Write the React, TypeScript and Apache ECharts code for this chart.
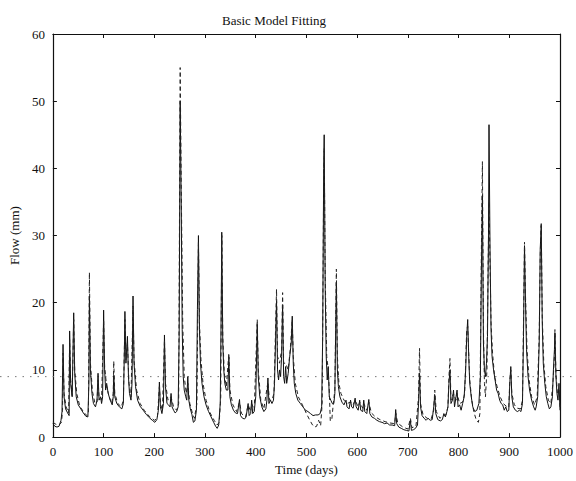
import React, { useEffect, useRef } from "react";
import * as echarts from "echarts";

// Observed flow [day, mm] (solid line)
const OBSERVED: [number, number][] = [
  [0, 2.0], [4, 1.6], [8, 1.5], [12, 1.6], [16, 2.5], [18, 3.8], [20, 13.8], [22, 6], [25, 4.2], [29, 3.6],
  [32, 3.2], [33, 15.8], [35, 8], [38, 6], [41, 18.5], [43, 9.5], [46, 6], [50, 4.8], [55, 4.2], [60, 3.6],
  [65, 3.1], [69, 3.0], [71, 8], [72, 21], [74, 10], [77, 6.5], [80, 5], [84, 4.5], [87, 5.5], [89, 9.5],
  [91, 5.5], [94, 6], [96, 5], [98, 6], [100, 18.9], [102, 10], [104, 7], [106, 8], [109, 6.5], [113, 5.5],
  [117, 4.8], [119, 6], [120, 9.2], [122, 6], [126, 5], [131, 4.5], [136, 4.2], [139, 5], [141, 13], [142, 18.7],
  [144, 11], [147, 15], [149, 9], [151, 6.5], [154, 5.5], [156, 8], [158, 21], [160, 11], [163, 7.5], [167, 5.5],
  [172, 4.6], [178, 4], [184, 3.4], [190, 2.9], [196, 2.5], [201, 2.2], [205, 2.6], [208, 4], [210, 8.2], [212, 4.5],
  [215, 3.5], [218, 5], [220, 15.2], [222, 7.5], [225, 5], [228, 4.8], [231, 4.5], [233, 6.5], [235, 4.5], [238, 4],
  [241, 3.6], [244, 3.8], [247, 4.5], [249, 15], [251, 50], [253, 35], [255, 16], [257, 9], [259, 7], [262, 6],
  [264, 5.5], [266, 9], [268, 5.5], [271, 4.2], [274, 3.4], [277, 2.2], [280, 2.4], [283, 4], [285, 19], [287, 30],
  [289, 16], [291, 11], [294, 8], [298, 6], [302, 4.8], [307, 3.8], [312, 3], [317, 2.2], [321, 1.6], [324, 1.3],
  [327, 1.8], [330, 5], [332, 20], [333, 30.5], [335, 14], [337, 10], [339, 8], [342, 7], [345, 7], [347, 11.9],
  [349, 6], [352, 4.8], [356, 4], [360, 3.6], [364, 3.5], [368, 5.6], [370, 3.2], [374, 2.8], [378, 2.7], [381, 3],
  [385, 5], [387, 3.2], [390, 3.5], [392, 5.5], [394, 3.5], [397, 3.8], [400, 6], [403, 16.8], [405, 9], [408, 6],
  [412, 4.5], [416, 3.8], [420, 4.2], [422, 5.5], [424, 8.8], [426, 5], [429, 5.5], [432, 5], [435, 5.5], [437, 8],
  [439, 14], [441, 20.3], [443, 10], [445, 8.5], [447, 10], [449, 9], [451, 12], [453, 19.7], [455, 9], [457, 8],
  [459, 10.5], [461, 8], [464, 9.5], [467, 12], [470, 14], [472, 18], [474, 11], [476, 8], [479, 6.5], [483, 5.5],
  [488, 5], [493, 4.5], [498, 4], [503, 3.8], [508, 3.5], [513, 3.2], [518, 3.3], [523, 3.3], [527, 3.5], [530, 4.5],
  [532, 15], [534, 40], [535, 45], [537, 22], [539, 12], [541, 8.5], [543, 10.5], [545, 6], [548, 5.5], [551, 5],
  [554, 5], [556, 6.5], [558, 18], [559, 23], [561, 10], [563, 7.5], [566, 6], [570, 5.2], [574, 4.8], [578, 5.5],
  [580, 4.5], [584, 4.2], [587, 5.5], [589, 4.5], [592, 4.3], [596, 5.8], [598, 4.5], [602, 4], [605, 5.5], [607, 4],
  [611, 3.8], [613, 5.5], [615, 3.8], [619, 3.5], [623, 5.6], [625, 3.5], [629, 3], [634, 2.8], [639, 2.5], [644, 2.3],
  [649, 2.2], [654, 2], [659, 2.1], [664, 1.8], [669, 1.8], [674, 1.7], [676, 4.1], [678, 2], [682, 1.5], [687, 1.3],
  [692, 1.1], [697, 1], [702, 0.9], [705, 2.5], [707, 1], [711, 1.1], [715, 1.3], [719, 1.8], [721, 5], [723, 9.5],
  [725, 4.5], [728, 3.2], [732, 2.8], [736, 2.5], [740, 2.8], [744, 2.5], [748, 2.6], [751, 4.5], [753, 6.3], [755, 3.5],
  [759, 2.6], [764, 2.4], [768, 2.6], [771, 3.5], [774, 3], [777, 3.8], [779, 4.5], [781, 8], [783, 10], [785, 5],
  [788, 5.5], [790, 7], [792, 4.5], [795, 6], [797, 7], [799, 4.5], [802, 4.8], [805, 4], [808, 5], [811, 6],
  [814, 10], [816, 15], [818, 17.5], [820, 12], [822, 8], [825, 6], [828, 4.5], [832, 3.8], [836, 4], [840, 5],
  [843, 9], [845, 25], [847, 36], [849, 14], [851, 10], [853, 9], [855, 11], [857, 15], [859, 30], [860, 46.5],
  [862, 28], [864, 16], [866, 12], [869, 10], [872, 8.5], [875, 7], [878, 6.5], [881, 5.5], [884, 5], [887, 4.8],
  [890, 4], [893, 4.5], [896, 3.8], [899, 4], [901, 8], [903, 10.5], [905, 6], [908, 4.5], [912, 4], [916, 3.8],
  [920, 4], [923, 3.8], [926, 5], [928, 15], [930, 28.5], [932, 20], [934, 13], [937, 9], [940, 7], [944, 5.5],
  [948, 4.5], [951, 4], [953, 4.5], [956, 6], [959, 14], [961, 28], [963, 31.5], [965, 17], [967, 11], [970, 8],
  [973, 6], [976, 5], [979, 4.2], [982, 4.5], [985, 6], [987, 10], [989, 13], [990, 15.5], [992, 9], [994, 6.5],
  [996, 5.5], [998, 8], [1000, 4],
];

// Modelled flow [day, mm] (dashed line)
const MODELLED: [number, number][] = [
  [0, 2.2], [6, 1.9], [12, 1.8], [17, 2.2], [19, 4], [20, 12.5], [22, 6.5], [26, 4.5], [31, 3.6], [33, 14.5],
  [35, 8.5], [38, 6.2], [41, 17.5], [43, 10], [47, 6.5], [53, 4.6], [60, 3.8], [67, 3.2], [70, 3.5], [72, 24.5],
  [74, 11], [78, 6.8], [83, 5], [87, 5.2], [89, 8.5], [91, 6], [96, 5.5], [100, 17.5], [102, 10.5], [106, 7.5],
  [111, 6], [116, 5], [119, 6.5], [120, 11.3], [122, 6.5], [128, 5], [135, 4.5], [139, 5.5], [142, 17.5], [144, 11.5],
  [147, 14], [150, 8], [154, 6], [158, 19.5], [160, 11.5], [165, 7], [172, 5], [180, 4], [190, 3.1], [200, 2.5],
  [206, 2.8], [210, 7.5], [212, 5], [216, 4], [220, 14.5], [222, 8], [227, 5.5], [233, 6], [238, 4.5], [244, 4],
  [248, 5], [251, 55], [253, 38], [256, 17], [259, 9], [263, 6.5], [266, 8], [270, 5], [275, 3.6], [279, 2.8],
  [284, 5], [287, 29], [289, 17], [292, 11.5], [296, 8], [302, 5.5], [310, 3.6], [318, 2.5], [324, 1.8], [328, 2.2],
  [331, 6], [333, 30], [335, 15], [338, 9.5], [342, 7.5], [347, 12.5], [349, 7], [355, 4.8], [362, 3.8], [368, 5.2],
  [372, 3.5], [380, 3], [385, 4.8], [390, 3.8], [392, 5], [397, 4], [403, 17.5], [405, 10], [410, 5.5], [416, 4.2],
  [424, 8.2], [427, 5.5], [432, 5.5], [436, 6.5], [441, 22], [443, 12], [447, 11], [451, 13], [453, 21.5], [455, 11],
  [459, 11], [464, 10], [468, 13], [472, 17.5], [474, 12], [478, 8], [484, 6], [492, 4.8], [500, 3.5], [506, 2.6],
  [512, 1.8], [516, 1.5], [520, 1.6], [524, 2.5], [528, 1.7], [531, 5], [534, 38], [535, 43], [537, 24], [540, 12],
  [543, 10], [545, 7], [547, 2.4], [550, 2.6], [553, 5], [556, 7], [559, 25], [561, 12], [564, 8], [568, 6.5],
  [574, 5.5], [580, 5], [587, 5.2], [592, 4.8], [596, 5.5], [602, 4.5], [605, 5.2], [611, 4.3], [613, 5], [619, 4],
  [623, 5.2], [628, 3.6], [636, 3], [645, 2.6], [655, 2.3], [665, 2.1], [674, 2], [676, 3.6], [680, 2.1], [690, 1.5],
  [700, 1.2], [705, 2.8], [708, 1.4], [716, 1.6], [721, 6], [723, 13.2], [725, 5], [730, 3.3], [738, 2.8], [746, 2.7],
  [751, 4], [753, 7], [756, 3.8], [763, 2.8], [770, 3.2], [775, 3.3], [779, 4.5], [781, 9], [783, 11.7], [785, 5.5],
  [790, 6.5], [795, 5.5], [797, 6.5], [802, 5], [808, 5.2], [812, 6.5], [814, 11], [816, 16], [818, 16.5], [820, 12.5],
  [822, 8.5], [826, 5.5], [830, 3.8], [835, 2.5], [839, 2.2], [842, 3.5], [845, 28], [847, 41], [849, 16], [851, 8],
  [853, 6], [856, 10], [858, 24], [860, 35], [862, 26], [864, 17], [867, 12.5], [871, 9], [876, 7.5], [882, 6],
  [888, 5], [894, 4.6], [899, 4.4], [901, 8.5], [903, 10], [905, 6.5], [910, 4.8], [916, 4.3], [922, 4.2], [926, 5.5],
  [928, 17], [930, 29], [932, 21], [935, 13], [939, 8.5], [944, 6], [950, 4.8], [955, 6], [959, 15], [961, 27],
  [963, 32], [965, 18], [968, 11], [972, 7.5], [977, 5.5], [982, 5], [986, 8], [989, 12], [990, 16], [992, 9.5],
  [995, 6.5], [998, 7], [1000, 4.5],
];

const TITLE = "Basic Model Fitting";
const X_NAME = "Time (days)";
const Y_NAME = "Flow (mm)";
const X_MIN = 0, X_MAX = 1000, X_STEP = 100;
const Y_MIN = 0, Y_MAX = 60, Y_STEP = 10;
const REF_LEVEL = 9;

const FONT = "'Liberation Serif', 'DejaVu Serif', serif";

export default function App() {
  const ref = useRef<HTMLDivElement>(null);
  useEffect(() => {
    if (!ref.current) return;
    const chart = echarts.init(ref.current, null, { renderer: "svg" });
    const axisCommon = {
      axisLine: { show: true, onZero: false, lineStyle: { color: "#111", width: 1.2 } },
      axisTick: { show: true, inside: true, length: 4, lineStyle: { color: "#111" } },
      splitLine: { show: false },
    };
    const plain = (v: number) => String(v);
    chart.setOption({
      animation: false,
      backgroundColor: "#fff",
      title: {
        text: TITLE,
        left: 217,
        top: 9,
        textStyle: { fontFamily: FONT, fontSize: 13, fontWeight: "normal", color: "#111" },
      },
      grid: { left: 42, right: 16, top: 34, bottom: 37 },
      xAxis: [
        {
          type: "value", min: X_MIN, max: X_MAX, interval: X_STEP, position: "bottom",
          name: X_NAME, nameLocation: "middle", nameGap: 23,
          nameTextStyle: { fontFamily: FONT, fontSize: 13, color: "#111" },
          axisLabel: { fontFamily: FONT, fontSize: 13, color: "#111", margin: 8, formatter: plain },
          ...axisCommon,
        },
        {
          type: "value", min: X_MIN, max: X_MAX, interval: X_STEP, position: "top",
          axisLabel: { show: false },
          ...axisCommon,
        },
      ],
      yAxis: [
        {
          type: "value", min: Y_MIN, max: Y_MAX, interval: Y_STEP, position: "left",
          name: Y_NAME, nameLocation: "middle", nameGap: 24,
          nameTextStyle: { fontFamily: FONT, fontSize: 13, color: "#111" },
          axisLabel: { fontFamily: FONT, fontSize: 13, color: "#111", margin: 8, formatter: plain },
          ...axisCommon,
        },
        {
          type: "value", min: Y_MIN, max: Y_MAX, interval: Y_STEP, position: "right",
          axisLabel: { show: false },
          ...axisCommon,
        },
      ],
      series: [
        {
          name: "Observed", type: "line", data: OBSERVED, showSymbol: false,
          lineStyle: { color: "#111", width: 1 }, z: 3,
        },
        {
          name: "Modelled", type: "line", data: MODELLED, showSymbol: false,
          lineStyle: { color: "#222", width: 1, type: [4, 3] }, z: 4,
        },
      ],
    });
    const y = chart.convertToPixel({ yAxisIndex: 0 }, REF_LEVEL) as number;
    const w = chart.getWidth();
    chart.setOption({
      graphic: [
        {
          type: "line", silent: true, z: 1,
          shape: { x1: 0, y1: y, x2: w, y2: y },
          style: { stroke: "#777", lineWidth: 1, lineDash: [1.5, 6] },
        },
      ],
    });
    return () => chart.dispose();
  }, []);
  return (
    <div
      ref={ref}
      style={{ position: "absolute", left: 0, top: 0, width: 576, height: 481 }}
    />
  );
}
